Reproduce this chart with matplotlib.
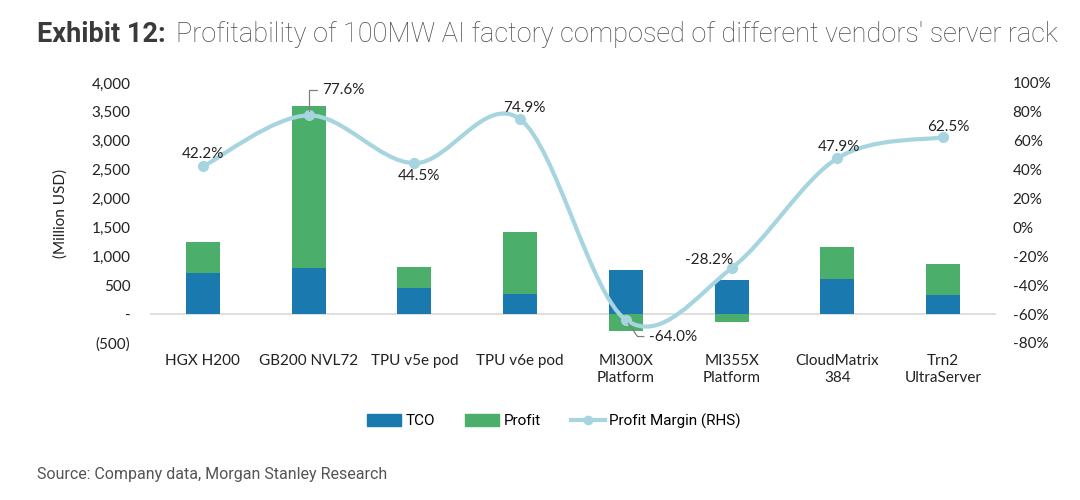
#!/usr/bin/python3
# -*- coding: utf-8 -*-

'''
Profitability of 100MW AI factory by server rack vendor
'''

import numpy as np
import matplotlib
matplotlib.use('Agg')
import matplotlib.pyplot as plt
from matplotlib.path import Path
from matplotlib.patches import PathPatch, Patch
from matplotlib.lines import Line2D
from matplotlib.ticker import FuncFormatter, MultipleLocator

# Data (million USD / %)
categories = ['HGX H200', 'GB200 NVL72', 'TPU v5e pod', 'TPU v6e pod',
              'MI300X\nPlatform', 'MI355X\nPlatform', 'CloudMatrix\n384',
              'Trn2\nUltraServer']
tco = [717, 805, 452, 356, 767, 594, 604, 327]
profit = [523, 2790, 362, 1064, -300, -131, 556, 544]
margin = [42.2, 77.6, 44.5, 74.9, -64.0, -28.2, 47.9, 62.5]

BLUE = '#1A7AB0'
GREEN = '#4BAE6A'
LINE = '#A6D4DF'
FONT = 'Lato'

plt.rcParams['font.family'] = [FONT, 'DejaVu Sans']


def smooth_path(xs, ys):
    '''Excel-like smoothed line as cubic bezier segments'''
    pts = np.column_stack([xs, ys]).astype(float)
    padded = np.vstack([pts[0], pts, pts[-1]])
    verts = [pts[0]]
    codes = [Path.MOVETO]
    for i in range(len(pts) - 1):
        p0, p1, p2, p3 = padded[i], padded[i + 1], padded[i + 2], padded[i + 3]
        verts += [p1 + (p2 - p0) / 6, p2 - (p3 - p1) / 6, p2]
        codes += [Path.CURVE4] * 3
    return Path(verts, codes)


def main():
    fig = plt.figure(figsize=(10.8, 5), dpi=100)
    ax = fig.add_axes([150 / 1080, 1 - 343 / 500, 846 / 1080, 260 / 500])
    x = np.arange(len(categories))
    tco_a = np.array(tco)
    profit_a = np.array(profit)

    # Stacked bars
    ax.bar(x, tco_a, width=0.32, color=BLUE, zorder=2)
    ax.bar(x, profit_a, width=0.32, bottom=np.where(profit_a >= 0, tco_a, 0),
           color=GREEN, zorder=2)
    ax.axhline(0, color='#D9D9D9', lw=1.2, zorder=1)
    ax.set_xlim(-0.5, len(categories) - 0.5)
    ax.set_ylim(-500, 4000)
    ax.yaxis.set_major_locator(MultipleLocator(500))
    ax.yaxis.set_major_formatter(FuncFormatter(
        lambda v, p: '-' if v == 0 else (f'({abs(v):,.0f})' if v < 0 else f'{v:,.0f}')))
    ax.set_xticks(x)
    ax.set_xticklabels(categories, fontsize=11, color='#222222', linespacing=1.3)
    ax.tick_params(axis='x', length=0, pad=8)
    ax.tick_params(axis='y', length=0, pad=14, labelsize=11, labelcolor='#222222')
    ax.set_ylabel('(Million USD)', fontsize=11, color='#222222')
    ax.yaxis.set_label_coords(-0.097, 0.5)
    for s in ax.spines.values():
        s.set_visible(False)

    # Profit margin line on right axis
    ax2 = ax.twinx()
    ax2.set_ylim(-80, 100)
    ax2.yaxis.set_major_locator(MultipleLocator(20))
    ax2.yaxis.set_major_formatter(FuncFormatter(lambda v, p: f'{v:.0f}%'))
    ax2.tick_params(axis='y', length=0, pad=12, labelsize=11, labelcolor='#222222')
    for s in ax2.spines.values():
        s.set_visible(False)
    ax2.add_patch(PathPatch(smooth_path(x, margin), fill=False, edgecolor=LINE,
                            lw=3, capstyle='round', joinstyle='round', zorder=3))
    ax2.plot(x, margin, 'o', ms=7, color=LINE, zorder=4)

    # Data labels (offsets in points)
    offsets = [(0, 9, 'center', None), (10, 18, 'left', 'angle,angleA=0,angleB=90'),
               (3, -9, 'center', None), (3, 8, 'center', None),
               (17, -12, 'left', 'angle,angleA=0,angleB=-55'), (-16, 6, 'center', None),
               (1, 8, 'center', None), (4, 7, 'center', None)]
    for xi, m, (dx, dy, ha, conn) in zip(x, margin, offsets):
        kw = {}
        if conn:
            kw['arrowprops'] = dict(arrowstyle='-', color='#7F7F7F', lw=0.9,
                                    connectionstyle=conn, relpos=(0, 0.5),
                                    shrinkA=2, shrinkB=3)
        ax2.annotate(f'{m:.1f}%', (xi, m), xytext=(dx, dy), textcoords='offset points',
                     ha=ha, va='center', fontsize=11, color='#222222', zorder=5, **kw)

    # Legend
    handles = [Patch(color=BLUE), Patch(color=GREEN),
               Line2D([], [], color=LINE, lw=3, marker='o', ms=6)]
    fig.legend(handles, ['TCO', 'Profit', 'Profit Margin (RHS)'], loc='center',
               bbox_to_anchor=(0.513, 1 - 421 / 500), ncol=3, frameon=False,
               prop={'family': 'Roboto', 'size': 11}, handlelength=2.2,
               handleheight=0.8, handletextpad=0.3, columnspacing=2.0)

    # Title
    t1 = fig.text(37 / 1080, 1 - 34 / 500, 'Exhibit 12:', fontsize=19.5,
                  fontweight='bold', family='Roboto', color='#3A3A3A', va='center')
    fig.canvas.draw()
    bb = t1.get_window_extent()
    fig.text((bb.x1 + 10) / 1080, 1 - 34 / 500,
             'Profitability of 100MW AI factory composed of different vendors\' server rack',
             fontsize=19.5, fontweight='light', family='Roboto', color='#4A4A4A', va='center')

    # Source
    fig.text(37 / 1080, 1 - 475 / 500, 'Source: Company data, Morgan Stanley Research',
             fontsize=11.5, family='Roboto', color='#555555', va='center')

    fig.savefig('out.png', dpi=100)


if __name__ == '__main__':
    main()
